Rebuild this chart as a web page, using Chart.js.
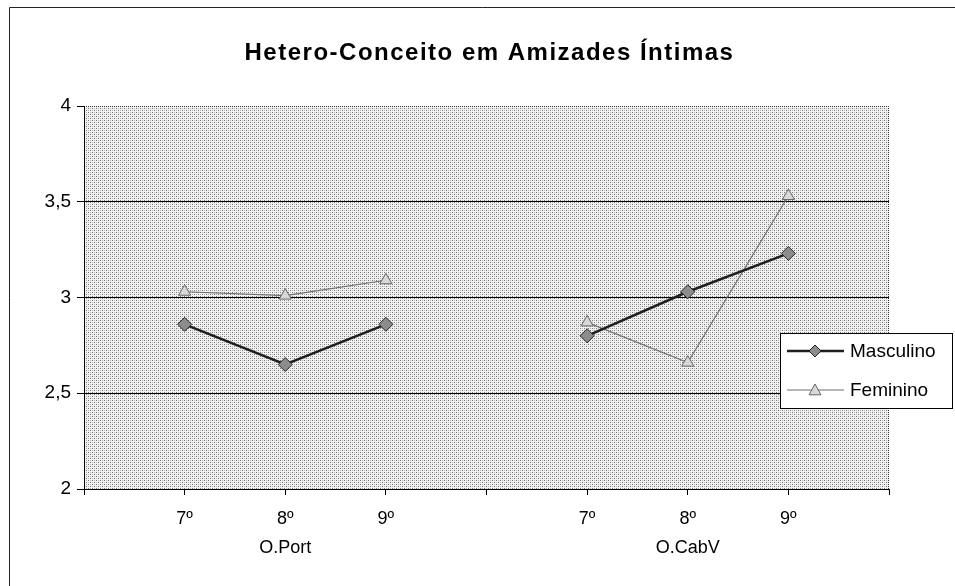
<!DOCTYPE html>
<html>
<head>
<meta charset="utf-8">
<script src="https://cdn.jsdelivr.net/npm/chart.js@4/dist/chart.umd.min.js"></script>
<style>
  html, body { margin: 0; padding: 0; background: #fff; }
  #wrap { width: 955px; height: 586px; position: relative; }
</style>
</head>
<body>
<div id="wrap"><canvas id="grafico" width="955" height="586"></canvas></div>
<script>
  // Dados do gráfico (posições vazias separam as duas escolas)
  var categorias = ['', '7º', '8º', '9º', '', '7º', '8º', '9º', ''];
  var escolas = ['', '', 'O.Port', '', '', '', 'O.CabV', '', ''];
  var masculino = [null, 2.86, 2.65, 2.86, null, 2.80, 3.03, 3.23, null];
  var feminino = [null, 3.03, 3.01, 3.09, null, 2.87, 2.66, 3.53, null];
  var yTicks = [2, 2.5, 3, 3.5, 4];
  var titulo = 'Hetero-Conceito em Amizades Íntimas';

  var fonte = 'Arial, "Liberation Sans", sans-serif';

  // Etiquetas em duas linhas: ano + escola
  var etiquetas = categorias.map(function (c, i) { return [c, escolas[i]]; });

  // Padrão pontilhado do fundo da área do gráfico
  function criaPadrao(ctx) {
    var c = document.createElement('canvas');
    c.width = 4; c.height = 4;
    var p = c.getContext('2d');
    p.fillStyle = '#f2f2f2';
    p.fillRect(0, 0, 4, 4);
    p.fillStyle = '#777';
    p.fillRect(0, 0, 1, 1);
    p.fillRect(2, 2, 1, 1);
    p.fillStyle = '#b8b8b8';
    p.fillRect(2, 0, 1, 1);
    p.fillRect(0, 2, 1, 1);
    return ctx.createPattern(c, 'repeat');
  }

  function desenhaLosango(ctx, x, y, r, fill, stroke) {
    ctx.beginPath();
    ctx.moveTo(x, y - r); ctx.lineTo(x + r, y); ctx.lineTo(x, y + r); ctx.lineTo(x - r, y);
    ctx.closePath();
    ctx.fillStyle = fill; ctx.fill();
    ctx.strokeStyle = stroke; ctx.lineWidth = 1; ctx.stroke();
  }

  function desenhaTriangulo(ctx, x, y, r, fill, stroke) {
    ctx.beginPath();
    ctx.moveTo(x, y - r); ctx.lineTo(x + r, y + r * 0.8); ctx.lineTo(x - r, y + r * 0.8);
    ctx.closePath();
    ctx.fillStyle = fill; ctx.fill();
    ctx.strokeStyle = stroke; ctx.lineWidth = 1; ctx.stroke();
  }

  var fundo = {
    id: 'fundo',
    beforeDraw: function (chart) {
      var ctx = chart.ctx, a = chart.chartArea;
      ctx.save();
      ctx.fillStyle = criaPadrao(ctx);
      ctx.fillRect(a.left, a.top, a.right - a.left, a.bottom - a.top);
      // moldura exterior
      ctx.strokeStyle = '#222';
      ctx.lineWidth = 1;
      ctx.beginPath();
      ctx.moveTo(9.5, 600); ctx.lineTo(9.5, 7.5); ctx.lineTo(960, 7.5);
      ctx.stroke();
      // limites superior e direito da área, pontilhados
      ctx.setLineDash([1, 1]);
      ctx.strokeStyle = '#333';
      ctx.beginPath();
      ctx.moveTo(a.left, a.top + 0.5); ctx.lineTo(a.right - 0.5, a.top + 0.5); ctx.lineTo(a.right - 0.5, a.bottom);
      ctx.stroke();
      ctx.restore();
    },
    afterDraw: function (chart) {
      var ctx = chart.ctx, a = chart.chartArea;
      ctx.save();
      // título
      ctx.fillStyle = '#000';
      ctx.font = 'bold 24px ' + fonte;
      ctx.letterSpacing = '1.5px';
      ctx.textAlign = 'center';
      ctx.textBaseline = 'middle';
      ctx.fillText(titulo, (a.left + a.right) / 2 + 3, 53);
      ctx.letterSpacing = '0px';
      // legenda
      ctx.fillStyle = '#fff';
      ctx.fillRect(780, 333, 172, 75);
      ctx.strokeStyle = '#000';
      ctx.lineWidth = 1;
      ctx.strokeRect(780.5, 333.5, 172, 75);
      var ds = chart.data.datasets;
      var ys = [351, 390];
      ds.forEach(function (d, i) {
        ctx.strokeStyle = d.borderColor;
        ctx.lineWidth = d.borderWidth;
        ctx.beginPath();
        ctx.moveTo(787, ys[i]); ctx.lineTo(844, ys[i]);
        ctx.stroke();
        if (i === 0) desenhaLosango(ctx, 815, ys[i], 6, d.pointBackgroundColor, d.pointBorderColor);
        else desenhaTriangulo(ctx, 815, ys[i], 6, d.pointBackgroundColor, d.pointBorderColor);
        ctx.fillStyle = '#000';
        ctx.font = '19px ' + fonte;
        ctx.textBaseline = 'middle';
        ctx.textAlign = 'left';
        ctx.fillText(d.label, 850, ys[i] + 1);
      });
      ctx.restore();
    }
  };

  var canvas = document.getElementById('grafico').getContext('2d');

  var grafico = new Chart(canvas, {
    type: 'line',
    data: {
      labels: etiquetas,
      datasets: [{
        label: 'Masculino',
        data: masculino,
        borderColor: '#1e1e1e',
        borderWidth: 2.5,
        pointStyle: 'rectRot',
        pointRadius: 7,
        pointBackgroundColor: '#8c8c8c',
        pointBorderColor: '#222',
        pointBorderWidth: 1,
        tension: 0
      }, {
        label: 'Feminino',
        data: feminino,
        borderColor: '#6e6e6e',
        borderWidth: 1.2,
        pointStyle: 'triangle',
        pointRadius: 7,
        pointBackgroundColor: '#d8d8d8',
        pointBorderColor: '#666',
        pointBorderWidth: 1,
        tension: 0
      }]
    },
    options: {
      responsive: false,
      animation: false,
      layout: { padding: { left: 10, right: 66, top: 106, bottom: 0 } },
      plugins: {
        legend: { display: false },
        tooltip: { enabled: false },
        title: { display: false }
      },
      scales: {
        x: {
          offset: false,
          grid: { drawOnChartArea: false, drawTicks: true, tickLength: 6, tickColor: '#000' },
          border: { color: '#000', width: 1 },
          ticks: {
            color: '#000',
            font: { family: fonte, size: 18, lineHeight: 1.6 },
            padding: 10,
            autoSkip: false,
            maxRotation: 0
          },
          afterFit: function (s) { s.height = 97; }
        },
        y: {
          min: 2,
          max: 4,
          afterBuildTicks: function (s) { s.ticks = yTicks.map(function (v) { return { value: v }; }); },
          grid: {
            color: function (c) { return (c.tick && (c.tick.value === 4 || c.tick.value === 2)) ? 'rgba(0,0,0,0)' : '#000'; },
            tickColor: '#000',
            tickLength: 7,
            lineWidth: 1
          },
          border: { color: '#000', width: 1 },
          ticks: {
            color: '#000',
            font: { family: fonte, size: 19 },
            padding: 6,
            callback: function (v) { return String(v).replace('.', ','); }
          },
          afterFit: function (s) { s.width = 74; }
        }
      }
    },
    plugins: [fundo]
  });
</script>
</body>
</html>
